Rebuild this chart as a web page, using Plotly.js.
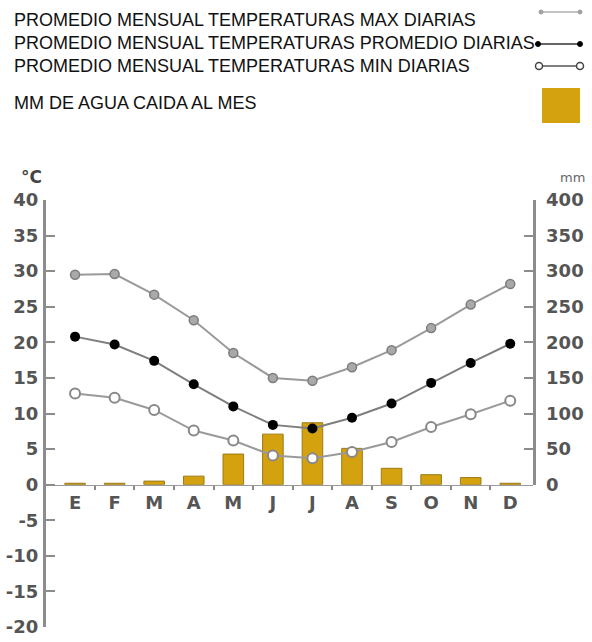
<!DOCTYPE html>
<html>
<head>
<meta charset="utf-8">
<script src="https://cdn.plot.ly/plotly-3.0.1.min.js"></script>
<style>html,body{margin:0;padding:0;background:#fff;}#chart{width:592px;height:642px;}</style>
</head>
<body>
<div id="chart"></div>
<script>
// ---- data ----
var monthLabels = ['E','F','M','A','M','J','J','A','S','O','N','D'];
var tempMax = [29.5, 29.6, 26.7, 23.1, 18.5, 15.0, 14.6, 16.5, 18.9, 22.0, 25.3, 28.2];
var tempAvg = [20.8, 19.7, 17.4, 14.1, 11.0, 8.4, 7.9, 9.4, 11.4, 14.3, 17.1, 19.8];
var tempMin = [12.8, 12.2, 10.5, 7.6, 6.2, 4.1, 3.7, 4.6, 6.0, 8.1, 9.9, 11.8];
var rainMm = [2, 2, 5, 12, 43, 71, 87, 51, 23, 14, 10, 2];
var tempTicks = [-20, -15, -10, -5, 0, 5, 10, 15, 20, 25, 30, 35, 40];
var rainTicks = [0, 50, 100, 150, 200, 250, 300, 350, 400];
var legendTexts = [
  'PROMEDIO MENSUAL TEMPERATURAS MAX DIARIAS',
  'PROMEDIO MENSUAL TEMPERATURAS PROMEDIO DIARIAS',
  'PROMEDIO MENSUAL TEMPERATURAS MIN DIARIAS',
  'MM DE AGUA CAIDA AL MES'
];

// ---- layout geometry ----
var W = 592, H = 642;
var M = {l: 44, r: 59, t: 200, b: 15};
var PW = W - M.l - M.r, PH = H - M.t - M.b;
function px(x) { return (x - M.l) / PW; }
function py(y) { return (H - M.b - y) / PH; }

var tLo = tempTicks[0], tHi = tempTicks[tempTicks.length - 1];
var zeroFrac = (0 - tLo) / (tHi - tLo);

var xi = monthLabels.map(function (_, i) { return i; });
var bounds = xi.slice(0, -1).map(function (i) { return i + 0.5; });

var tickFont = {family: 'DejaVu Sans', size: 18, color: '#555555', weight: 'bold'};
var lineGray = '#8c8c8c';
var gold = '#d4a10f';

var traces = [
  {x: xi, y: rainMm, type: 'bar', xaxis: 'x', yaxis: 'y2', width: 0.52,
   marker: {color: gold, line: {color: '#9c7a14', width: 1}}, showlegend: false},
  // temperature lines drawn on y3 (overlaying the rain subplot, positive part of the °C scale) so they sit above the bars
  {x: xi, y: tempMax, type: 'scatter', mode: 'lines+markers', xaxis: 'x', yaxis: 'y3',
   line: {color: '#9a9a9a', width: 2}, cliponaxis: false,
   marker: {symbol: 'circle', size: 9, color: '#a9a9a9', line: {color: '#7c7c7c', width: 1.5}}, showlegend: false},
  {x: xi, y: tempAvg, type: 'scatter', mode: 'lines+markers', xaxis: 'x', yaxis: 'y3',
   line: {color: '#7e7e7e', width: 2}, cliponaxis: false,
   marker: {symbol: 'circle', size: 10, color: '#000000'}, showlegend: false},
  {x: xi, y: tempMin, type: 'scatter', mode: 'lines+markers', xaxis: 'x', yaxis: 'y3',
   line: {color: '#9a9a9a', width: 2}, cliponaxis: false,
   marker: {symbol: 'circle', size: 10, color: '#ffffff', line: {color: '#888888', width: 2}}, showlegend: false},
  // invisible carrier for the full °C axis and boundary ticks
  {x: bounds, y: bounds.map(function () { return null; }), xaxis: 'x2', yaxis: 'y', type: 'scatter', mode: 'markers', showlegend: false, hoverinfo: 'skip'}
];

var xRange = [-0.785, 11.575];

var shapes = [];
var annotations = [];
var legendY = [20, 43, 66, 103];
legendTexts.forEach(function (t, i) {
  annotations.push({text: t, xref: 'paper', yref: 'paper', x: px(12), y: py(legendY[i]),
    xanchor: 'left', yanchor: 'middle', showarrow: false,
    font: {family: 'Liberation Sans', size: 18, color: '#111111'}});
});
function seg(x0, x1, y, color, w) {
  shapes.push({type: 'line', xref: 'paper', yref: 'paper', x0: px(x0), x1: px(x1), y0: py(y), y1: py(y), line: {color: color, width: w}});
}
function dot(cx, cy, r, fill, stroke, sw) {
  shapes.push({type: 'circle', xref: 'paper', yref: 'paper', x0: px(cx - r), x1: px(cx + r), y0: py(cy + r), y1: py(cy - r),
    fillcolor: fill, line: {color: stroke, width: sw}});
}
seg(540, 581, 12, '#b0b0b0', 1.5); dot(541, 12, 2, '#a0a0a0', '#a0a0a0', 1); dot(580, 12, 2, '#a0a0a0', '#a0a0a0', 1);
seg(537, 581, 44, '#333333', 1.5); dot(538, 44, 2.5, '#000', '#000', 1); dot(580, 44, 2.5, '#000', '#000', 1);
seg(539, 580, 66, '#555555', 1.5); dot(539, 66, 3.5, '#fff', '#444', 1.5); dot(580, 66, 3.5, '#fff', '#444', 1.5);
shapes.push({type: 'rect', xref: 'paper', yref: 'paper', x0: px(542), x1: px(580), y0: py(123), y1: py(88), fillcolor: gold, line: {width: 0}});

annotations.push({text: '°C', xref: 'paper', yref: 'paper', x: px(31), y: py(177), xanchor: 'center', yanchor: 'middle',
  showarrow: false, font: {family: 'DejaVu Sans', size: 17, color: '#444', weight: 'bold'}});
annotations.push({text: 'mm', xref: 'paper', yref: 'paper', x: px(572), y: py(178), xanchor: 'center', yanchor: 'middle',
  showarrow: false, font: {family: 'DejaVu Sans', size: 13, color: '#666'}});

var layout = {
  width: W, height: H,
  margin: M,
  paper_bgcolor: '#ffffff', plot_bgcolor: 'rgba(0,0,0,0)',
  showlegend: false,
  xaxis: {range: xRange, anchor: 'free', position: zeroFrac,
    tickmode: 'array', tickvals: xi, ticktext: monthLabels, ticks: '', showgrid: false, zeroline: false,
    showline: true, linecolor: '#9a9a9a', linewidth: 1.5, tickfont: tickFont, ticklabelstandoff: 1},
  xaxis2: {range: xRange, overlaying: 'x', anchor: 'free', position: zeroFrac,
    tickmode: 'array', tickvals: bounds, ticks: 'outside', ticklen: 4, tickwidth: 2, tickcolor: '#888',
    showticklabels: false, showgrid: false, zeroline: false, showline: false},
  yaxis: {range: [tLo, tHi], tickmode: 'array', tickvals: tempTicks,
    ticktext: tempTicks.map(String), ticks: 'inside', ticklen: 9, tickwidth: 2, tickcolor: lineGray,
    showline: true, linecolor: lineGray, linewidth: 2.5, showgrid: false, zeroline: false,
    tickfont: tickFont, ticklabelstandoff: 1, anchor: 'free', position: 0},
  yaxis2: {domain: [zeroFrac, 1], range: [rainTicks[0], rainTicks[rainTicks.length - 1]],
    anchor: 'x', side: 'right', tickmode: 'array', tickvals: rainTicks, ticktext: rainTicks.map(String),
    ticks: 'inside', ticklen: 9, tickwidth: 2, tickcolor: lineGray,
    showline: true, linecolor: lineGray, linewidth: 2.5, showgrid: false, zeroline: false,
    tickfont: tickFont, ticklabelstandoff: 7},
  yaxis3: {overlaying: 'y2', range: [0, tHi], visible: false, showgrid: false, zeroline: false},
  shapes: shapes,
  annotations: annotations
};

Plotly.newPlot('chart', traces, layout, {staticPlot: true, displayModeBar: false});
</script>
</body>
</html>
